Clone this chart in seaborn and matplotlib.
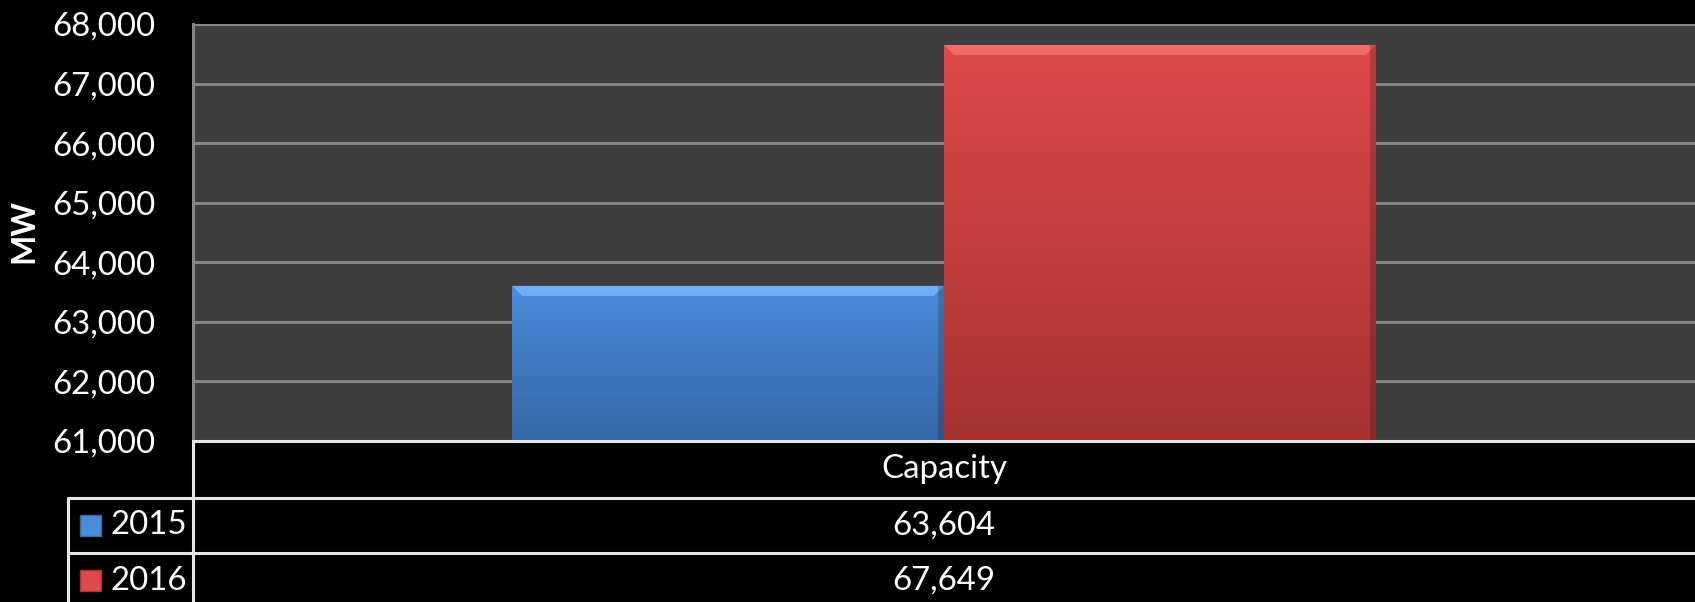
import numpy as np
import pandas as pd
import matplotlib
matplotlib.use("Agg")
import matplotlib.pyplot as plt
from matplotlib.colors import LinearSegmentedColormap
from matplotlib.patches import Polygon, Rectangle
from matplotlib.lines import Line2D
import seaborn as sns

# Data
categories = ["Capacity"]
years = ["2015", "2016"]
values_2015 = [63604]
values_2016 = [67649]
y_ticks = [61000, 62000, 63000, 64000, 65000, 66000, 67000, 68000]
y_label = "MW"

df = pd.DataFrame({
    "category": categories * 2,
    "year": years[:1] * len(categories) + years[1:] * len(categories),
    "value": values_2015 + values_2016,
})

sns.set_theme(style="dark")
plt.rcParams["font.family"] = ["Lato", "DejaVu Sans"]

W, H = 1695, 602
TXT = 23.8
fig = plt.figure(figsize=(W / 100, H / 100), dpi=100, facecolor="black")

# plot area in pixel coordinates
px_left, px_right, px_top, px_bottom = 193, 1695, 24, 441
ax = fig.add_axes([px_left / W, 1 - px_bottom / H,
                   (px_right - px_left) / W, (px_bottom - px_top) / H])
ax.set_facecolor("#3d3d3d")

top_cols = {"2015": "#4a8ddb", "2016": "#e0494a"}
bot_cols = {"2015": "#3667a6", "2016": "#a63232"}
bevel_cols = {"2015": "#6fb0f5", "2016": "#f06a68"}

sns.barplot(data=df, x="category", y="value", hue="year", hue_order=years,
            palette=top_cols, width=0.575, ax=ax, legend=False,
            saturation=1, edgecolor="none", zorder=3)

ax.set_ylim(y_ticks[0], y_ticks[-1])
ax.set_xlim(-0.5, 0.5)
ax.set_yticks(y_ticks)
ax.set_yticklabels([f"{t:,}" for t in y_ticks], color="white", fontsize=TXT)
ax.tick_params(axis="y", length=0, pad=27)
ax.set_xticks([])
ax.set_xlabel("")
ax.set_ylabel("")
ax.grid(axis="y", color="#858585", linewidth=2.2, zorder=1)
ax.grid(axis="x", visible=False)
for side in ["top", "right", "bottom"]:
    ax.spines[side].set_visible(False)
ax.spines["left"].set_color("#858585")
ax.spines["left"].set_linewidth(2.2)

# shaded fill with a bevelled top for each bar
ylo = y_ticks[0]
dx = 10 / (px_right - px_left)
dy = 10 / (px_bottom - px_top) * (y_ticks[-1] - y_ticks[0])
patches = list(ax.patches)
for patch, yr in zip(patches, years):
    x0 = patch.get_x()
    w = patch.get_width()
    top = patch.get_height()
    patch.set_facecolor("none")
    cmap = LinearSegmentedColormap.from_list("g", [bot_cols[yr], top_cols[yr]])
    grad = np.linspace(0, 1, 256).reshape(-1, 1)
    im = ax.imshow(grad, extent=[x0, x0 + w, ylo, top], origin="lower",
                   cmap=cmap, aspect="auto", zorder=3)
    im.set_clip_path(patch)
    bevel = Polygon([[x0, top], [x0 + w, top], [x0 + w - dx, top - dy],
                     [x0 + dx, top - dy]], closed=True,
                    facecolor=bevel_cols[yr], edgecolor="none", zorder=4)
    ax.add_patch(bevel)
    ax.add_patch(Rectangle((x0 + w - dx * 0.6, ylo), dx * 0.6, top - ylo,
                           facecolor="black", alpha=0.18, edgecolor="none", zorder=4))
ax.set_xlim(-0.5, 0.5)
ax.set_ylim(y_ticks[0], y_ticks[-1])


def fx(px):
    return px / W


def fy(py):
    return 1 - py / H


fig.text(fx(24), fy(231), y_label, color="white", fontsize=23,
         fontweight="bold", rotation=90, ha="center", va="center")

# data table beneath the plot
line_kw = dict(color="#e6e6e6", linewidth=2.2, transform=fig.transFigure)
row_y = [441, 498, 553, 608]
fig.add_artist(Line2D([fx(193), 1], [fy(441), fy(441)], **line_kw))
fig.add_artist(Line2D([fx(68), 1], [fy(498), fy(498)], **line_kw))
fig.add_artist(Line2D([fx(68), 1], [fy(553), fy(553)], **line_kw))
fig.add_artist(Line2D([fx(193), fx(193)], [fy(441), 0], **line_kw))
fig.add_artist(Line2D([fx(68), fx(68)], [fy(498), 0], **line_kw))

col_center = (193 + 1695) / 2
fig.text(fx(col_center), fy((441 + 498) / 2), categories[0], color="white",
         fontsize=TXT, ha="center", va="center")
rows = [values_2015, values_2016]
for i, (yr, vals) in enumerate(zip(years, rows)):
    yc = (row_y[i + 1] + row_y[i + 2]) / 2
    fig.text(fx(col_center), fy(yc), f"{vals[0]:,}", color="white",
             fontsize=TXT, ha="center", va="center")
    fig.text(fx(110), fy(yc), yr, color="white", fontsize=TXT,
             ha="left", va="center")
    fig.add_artist(Rectangle((fx(80), fy(yc + 10)), 21 / W, 21 / H,
                             facecolor=top_cols[yr], edgecolor=bot_cols[yr],
                             linewidth=1, transform=fig.transFigure))

fig.savefig("out.png", dpi=100, facecolor="black")
